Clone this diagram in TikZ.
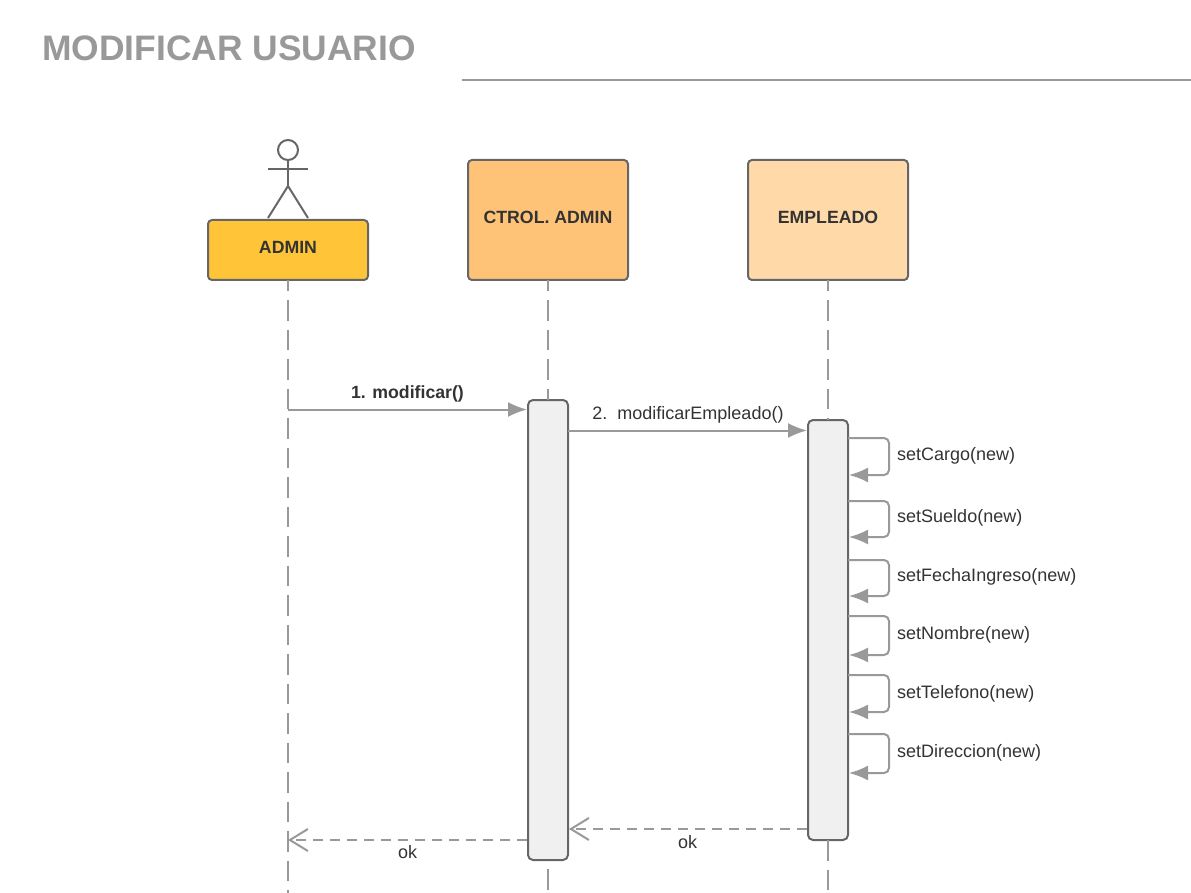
\documentclass[tikz,border=0pt]{standalone}
\usepackage{fontspec}
\setmainfont{Liberation Sans}
\usetikzlibrary{arrows.meta}
\definecolor{ln}{HTML}{999999}
\definecolor{bd}{HTML}{666666}
\definecolor{txt}{HTML}{333333}
\tikzset{
 box/.style={draw=#1,line width=2pt,outer sep=0pt,rounded corners=4pt,minimum width=160pt,minimum height=120pt,inner sep=0pt,anchor=north west,font=\fontsize{17.7}{20}\selectfont\bfseries,text=txt},
 act/.style={draw=bd,line width=2pt,outer sep=0pt,fill=black!6,rounded corners=5pt,minimum width=40pt,inner sep=0pt,anchor=north west},
 life/.style={draw=ln,line width=2pt,dash pattern=on 20.5pt off 9pt,dash phase=9.5pt},
 lifelow/.style={draw=ln,line width=2pt,dash pattern=on 20.5pt off 9pt},
 msg/.style={draw=ln,line width=2pt,-{Latex[length=19pt,width=15pt,color=ln]}},
 ret/.style={draw=ln,line width=2pt,dash pattern=on 10pt off 7pt,-{Straight Barb[length=18pt,width=22pt,line width=2pt,color=ln]}},
 self/.style={draw=ln,line width=2pt,rounded corners=5pt,-{Latex[length=19pt,width=15pt,color=ln]}},
 lab/.style={font=\fontsize{18}{20}\selectfont,text=txt,inner sep=0pt},
 stick/.style={draw=bd,line width=2pt},
}
\begin{document}
\begin{tikzpicture}[x=1pt,y=-1pt]
\useasboundingbox (0,0) rectangle (1191,893);
\node[font=\fontsize{35.4}{40}\selectfont\bfseries,text=ln,anchor=west,inner sep=0pt] (title) at (42,48) {MODIFICAR USUARIO};
\coordinate (ruleL) at (462,80); \coordinate (ruleR) at (1191,80);
\draw[ln,line width=2pt] (ruleL) -- (ruleR);
% boxes
\node[box=bd,fill={rgb,255:red,255;green,196;blue,56},minimum height=60pt] (admin) at (208,220) {\raisebox{6pt}{ADMIN}};
\node[box=bd,fill={rgb,255:red,255;green,195;blue,120}] (ctrl) at (468,160) {\raisebox{6pt}{CTROL. ADMIN}};
\node[box=bd,fill={rgb,255:red,255;green,218;blue,168}] (emp) at (748,160) {\raisebox{6pt}{EMPLEADO}};
% actor
\coordinate (hip) at (288,186);
\coordinate (armL) at (268,169); \coordinate (armR) at (308,169);
\coordinate (legL) at (268,218); \coordinate (legR) at (308,218);
\node[draw=bd,line width=2pt,circle,minimum size=20pt,inner sep=0pt,outer sep=0pt] (head) at (288,150) {};
\draw[stick] (head.south) -- (hip);
\draw[stick] (armL) -- (armR);
\draw[stick] (legL) -- (hip) -- (legR);
% activations
\node[act,minimum height=460pt] (a1) at (528,400) {};
\node[act,minimum height=420pt] (a2) at (808,420) {};
% lifelines
\coordinate (l0e) at (288,893); \coordinate (l1e) at (548,893); \coordinate (l2e) at (828,893);
\draw[life] (admin.south) -- (l0e);
\draw[life] (ctrl.south) -- (a1.north);
\draw[life] (emp.south) -- (a2.north);
\draw[lifelow,dash phase=20.5pt] (a1.south) -- (l1e);
\draw[lifelow] (a2.south) -- (l2e);
% messages
\coordinate (m1s) at (288,409.5); \coordinate (m1e) at (527,409.5);
\draw[msg] (m1s) -- (m1e);
\node[lab,font=\fontsize{17.7}{20}\selectfont\bfseries] (m1l) at (407.5,393.5) {1. modificar()};
\coordinate (m2s) at (568,430.5); \coordinate (m2e) at (807,430.5);
\draw[msg] (m2s) -- (m2e);
\node[lab] (m2l) at (688,415) {2.\ \ modificarEmpleado()};
% self calls
\foreach \ya/\yb/\yt/\t/\n in {438/475/455.5/setCargo(new)/c,501/537/518/setSueldo(new)/s,560/596/577/setFechaIngreso(new)/f,616/655/634.5/setNombre(new)/n,675/712/693.5/setTelefono(new)/t,734/773/752.5/setDireccion(new)/d}{
 \coordinate (\n a) at (848,\ya);
 \coordinate (\n b) at (849,\yb);
 \draw[self] (\n a) -- (889,\ya) -- (889,\yb) -- (\n b);
 \node[lab,anchor=west] (\n l) at (897,\yt) {\t};
}
% returns
\coordinate (r2s) at (807,829); \coordinate (r2e) at (569,829);
\draw[ret] (r2s) -- (r2e);
\node[lab] (r2l) at (687.5,842) {ok};
\coordinate (r1s) at (527,840); \coordinate (r1e) at (288,840);
\draw[ret] (r1s) -- (r1e);
\node[lab] (r1l) at (407.5,852.5) {ok};
\end{tikzpicture}
\end{document}
